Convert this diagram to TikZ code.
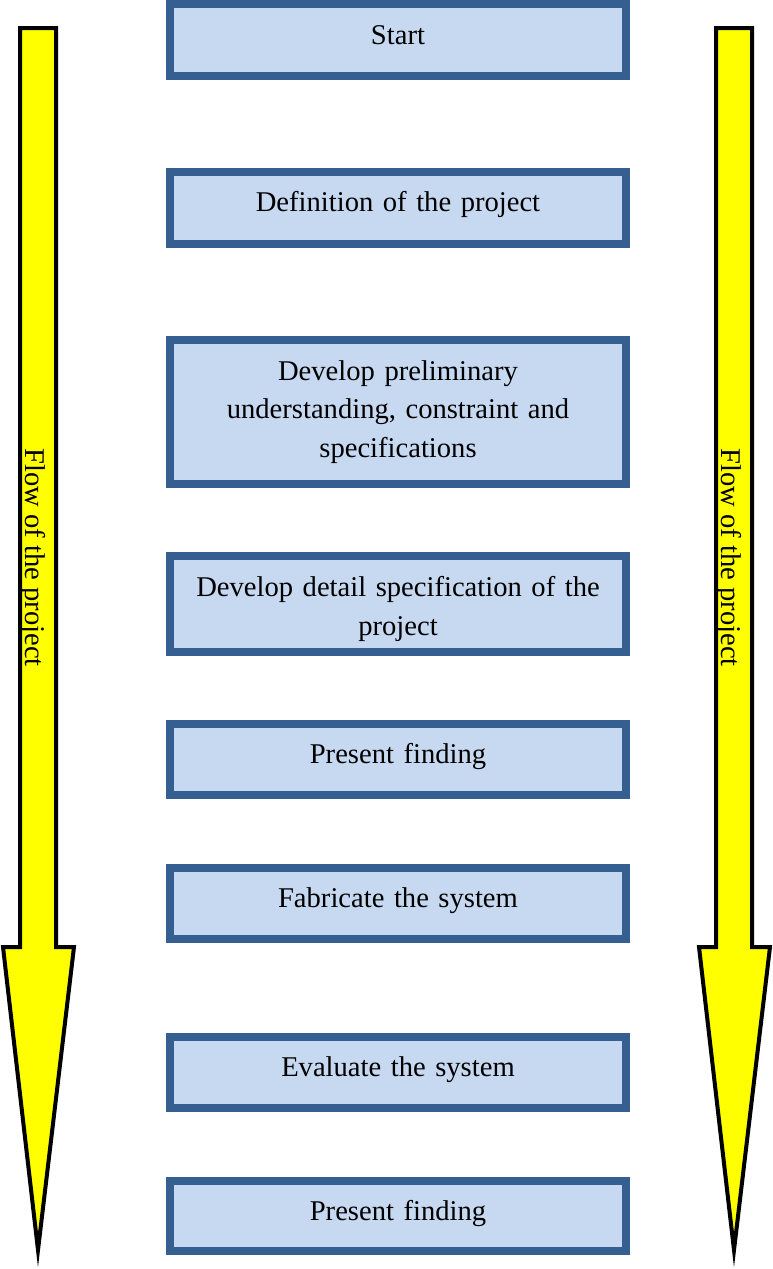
\documentclass[tikz,border=0pt]{standalone}
\usepackage{fontspec}
\setmainfont{Liberation Serif}
\definecolor{boxline}{HTML}{365F91}
\definecolor{boxfill}{HTML}{C6D9F1}
\definecolor{arrowfill}{HTML}{FFFF00}
\begin{document}
\begin{tikzpicture}[x=1pt,y=-1pt,
  stepbox/.style={draw=boxline,fill=boxfill,line width=8pt,minimum width=456pt,inner sep=0pt},
  steptext/.style={anchor=base,inner sep=0pt,text width=456pt,align=center,
    font=\fontsize{28.6}{38.5}\selectfont},
  flowarrow/.style={draw=black,fill=arrowfill,line width=4pt,line join=miter},
  flowtext/.style={rotate=-90,anchor=base,inner sep=0pt,font=\fontsize{28.6}{34}\selectfont}]
\useasboundingbox (0,0) rectangle (773,1269);
% arrows
\draw[flowarrow] (20,28) -- (56,28) -- (56,947) -- (74,947) -- (38,1250) -- (3,947) -- (20,947) -- cycle;
\draw[flowarrow] (716,28) -- (752,28) -- (752,947) -- (770,947) -- (734,1250) -- (699,947) -- (716,947) -- cycle;
\node[flowtext] (lt) at (25.5,557.5) {Flow of the project};
\node[flowtext] (rt) at (721.5,557.5) {Flow of the project};
% boxes
\node[stepbox,minimum height=72pt] (b1) at (398,40) {};
\node[stepbox,minimum height=72pt] (b2) at (398,208) {};
\node[stepbox,minimum height=144pt] (b3) at (398,412) {};
\node[stepbox,minimum height=96pt] (b4) at (398,604) {};
\node[stepbox,minimum height=71pt] (b5) at (398,759.5) {};
\node[stepbox,minimum height=71pt] (b6) at (398,903.5) {};
\node[stepbox,minimum height=71pt] (b7) at (398,1072.5) {};
\node[stepbox,minimum height=70pt] (b8) at (398,1216) {};
% texts
\node[steptext] (t1) at (398,44.3) {Start};
\node[steptext] (t2) at (398,211.7) {Definition of the project};
\node[steptext] (t3) at (398,380) {Develop preliminary\\understanding, constraint and\\specifications};
\node[steptext] (t4) at (398,596.7) {Develop detail specification of the\\project};
\node[steptext] (t5) at (398,763.5) {Present finding};
\node[steptext] (t6) at (398,907.5) {Fabricate the system};
\node[steptext] (t7) at (398,1076.5) {Evaluate the system};
\node[steptext] (t8) at (398,1220) {Present finding};
\end{tikzpicture}
\end{document}
